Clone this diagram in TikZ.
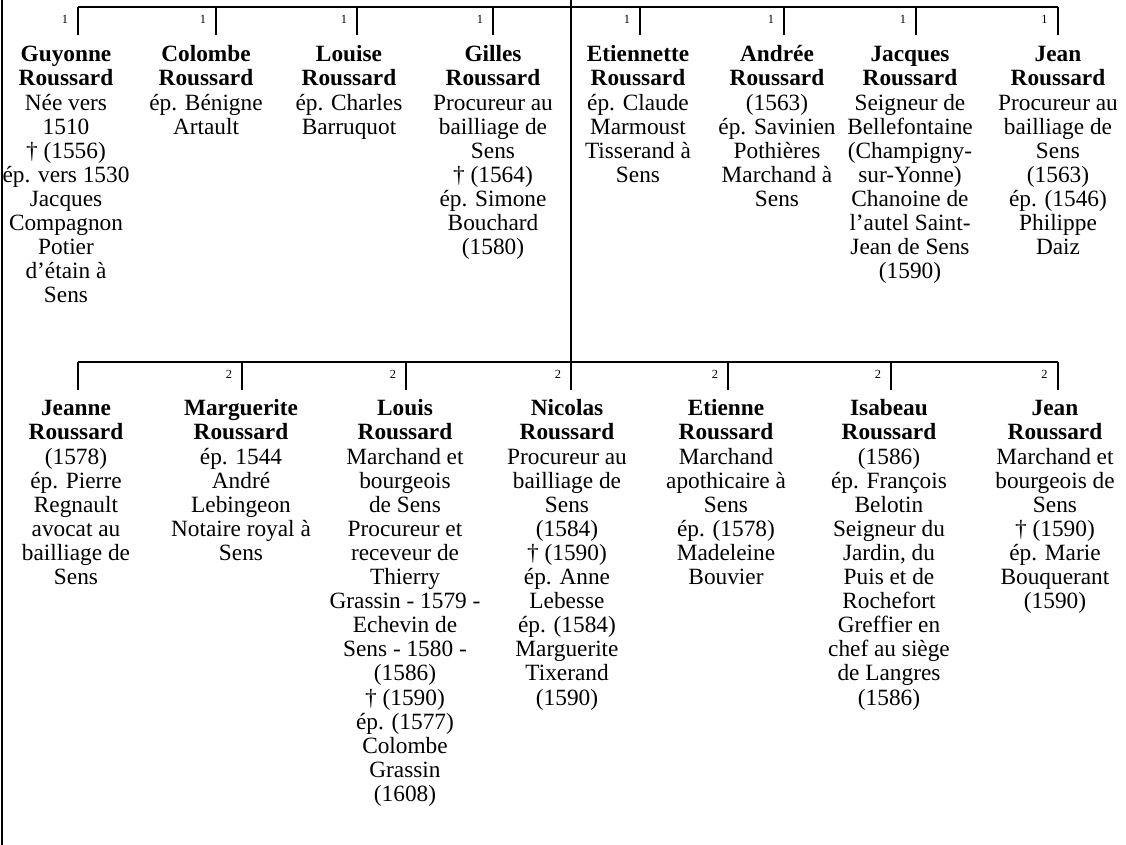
\documentclass[tikz,border=0pt]{standalone}
\usepackage{fontspec}
\setmainfont{Liberation Serif}
\usetikzlibrary{positioning}

\newcommand{\pname}[2]{\strut\textbf{#1}\\\textbf{#2}}

\begin{document}
\begin{tikzpicture}[x=0.5pt,y=-0.5pt,line width=1pt,
	person/.style={align=center,inner sep=0pt,anchor=north,font=\fontsize{11.65}{12.05}\selectfont},
	rank/.style={inner sep=0pt,font=\fontsize{6.2}{7}\selectfont}]
	
	\useasboundingbox (0,0) rectangle (1126,845);
	
	% first row
	\node[person] (guyonne) at (66,44) {\pname{Guyonne}{Roussard}\\Née vers\\1510\\† (1556)\\ép. vers 1530\\Jacques\\Compagnon\\Potier\\d’étain à\\Sens};
	\node[person] (colombe) at (206,44) {\pname{Colombe}{Roussard}\\ép. Bénigne\\Artault};
	\node[person] (louise) at (349,44) {\pname{Louise}{Roussard}\\ép. Charles\\Barruquot};
	\node[person] (gilles) at (493,44) {\pname{Gilles}{Roussard}\\Procureur au\\bailliage de\\Sens\\† (1564)\\ép. Simone\\Bouchard\\(1580)};
	\node[person] (etiennette) at (638,44) {\pname{Etiennette}{Roussard}\\ép. Claude\\Marmoust\\Tisserand à\\Sens};
	\node[person] (andree) at (777,44) {\pname{Andrée}{Roussard}\\(1563)\\ép. Savinien\\Pothières\\Marchand à\\Sens};
	\node[person] (jacques) at (910,44) {\pname{Jacques}{Roussard}\\Seigneur de\\Bellefontaine\\(Champigny-\\sur-Yonne)\\Chanoine de\\l’autel Saint-\\Jean de Sens\\(1590)};
	\node[person] (jean1) at (1058,44) {\pname{Jean}{Roussard}\\Procureur au\\bailliage de\\Sens\\(1563)\\ép. (1546)\\Philippe\\Daiz};
	
	% second row
	\node[person] (jeanne) at (76,398) {\pname{Jeanne}{Roussard}\\(1578)\\ép. Pierre\\Regnault\\avocat au\\bailliage de\\Sens};
	\node[person] (marguerite) at (241,398) {\pname{Marguerite}{Roussard}\\ép. 1544\\André\\Lebingeon\\Notaire royal à\\Sens};
	\node[person] (louis) at (405,398) {\pname{Louis}{Roussard}\\Marchand et\\bourgeois\\de Sens\\Procureur et\\receveur de\\Thierry\\Grassin - 1579 -\\Echevin de\\Sens - 1580 -\\(1586)\\† (1590)\\ép. (1577)\\Colombe\\Grassin\\(1608)};
	\node[person] (nicolas) at (567,398) {\pname{Nicolas}{Roussard}\\Procureur au\\bailliage de\\Sens\\(1584)\\† (1590)\\ép. Anne\\Lebesse\\ép. (1584)\\Marguerite\\Tixerand\\(1590)};
	\node[person] (etienne) at (726,398) {\pname{Etienne}{Roussard}\\Marchand\\apothicaire à\\Sens\\ép. (1578)\\Madeleine\\Bouvier};
	\node[person] (isabeau) at (889,398) {\pname{Isabeau}{Roussard}\\(1586)\\ép. François\\Belotin\\Seigneur du\\Jardin, du\\Puis et de\\Rochefort\\Greffier en\\chef au siège\\de Langres\\(1586)};
	\node[person] (jean2) at (1055,398) {\pname{Jean}{Roussard}\\Marchand et\\bourgeois de\\Sens\\† (1590)\\ép. Marie\\Bouquerant\\(1590)};
	
	% tree lines
	\coordinate (lt) at (2,0);
	\coordinate (lb) at (2,845);
	\coordinate (root) at (571,0);
	\coordinate (a1) at (78,7);     \coordinate (b1) at (78,35);
	\coordinate (a2) at (216,7);    \coordinate (b2) at (216,35);
	\coordinate (a3) at (357,7);    \coordinate (b3) at (357,35);
	\coordinate (a4) at (493,7);    \coordinate (b4) at (493,35);
	\coordinate (a5) at (640,7);    \coordinate (b5) at (640,35);
	\coordinate (a6) at (784,7);    \coordinate (b6) at (784,35);
	\coordinate (a7) at (916,7);    \coordinate (b7) at (916,35);
	\coordinate (a8) at (1057.5,7); \coordinate (b8) at (1057.5,35);
	\coordinate (c1) at (78,362);     \coordinate (d1) at (78,390);
	\coordinate (c2) at (242,362);    \coordinate (d2) at (242,390);
	\coordinate (c3) at (406,362);    \coordinate (d3) at (406,390);
	\coordinate (c4) at (571,362);    \coordinate (d4) at (571,390);
	\coordinate (c5) at (728,362);    \coordinate (d5) at (728,390);
	\coordinate (c6) at (891,362);    \coordinate (d6) at (891,390);
	\coordinate (c7) at (1057.5,362); \coordinate (d7) at (1057.5,390);
	
	\path
	(lt) edge (lb)
	(root) edge (c4)
	(a1) edge (a8)
	(c1) edge (c7)
	(a1) edge (b1)
	(a2) edge (b2)
	(a3) edge (b3)
	(a4) edge (b4)
	(a5) edge (b5)
	(a6) edge (b6)
	(a7) edge (b7)
	(a8) edge (b8)
	(c1) edge (d1)
	(c2) edge (d2)
	(c3) edge (d3)
	(c4) edge (d4)
	(c5) edge (d5)
	(c6) edge (d6)
	(c7) edge (d7);
	
	% generation numbers
	\node[rank] (r1) at (65,19) {1};
	\node[rank] (r2) at (203,19) {1};
	\node[rank] (r3) at (344,19) {1};
	\node[rank] (r4) at (480,19) {1};
	\node[rank] (r5) at (627,19) {1};
	\node[rank] (r6) at (771,19) {1};
	\node[rank] (r7) at (903,19) {1};
	\node[rank] (r8) at (1044.5,19) {1};
	\node[rank] (s2) at (229,374) {2};
	\node[rank] (s3) at (393,374) {2};
	\node[rank] (s4) at (558,374) {2};
	\node[rank] (s5) at (715,374) {2};
	\node[rank] (s6) at (878,374) {2};
	\node[rank] (s7) at (1044.5,374) {2};
\end{tikzpicture}
\end{document}
